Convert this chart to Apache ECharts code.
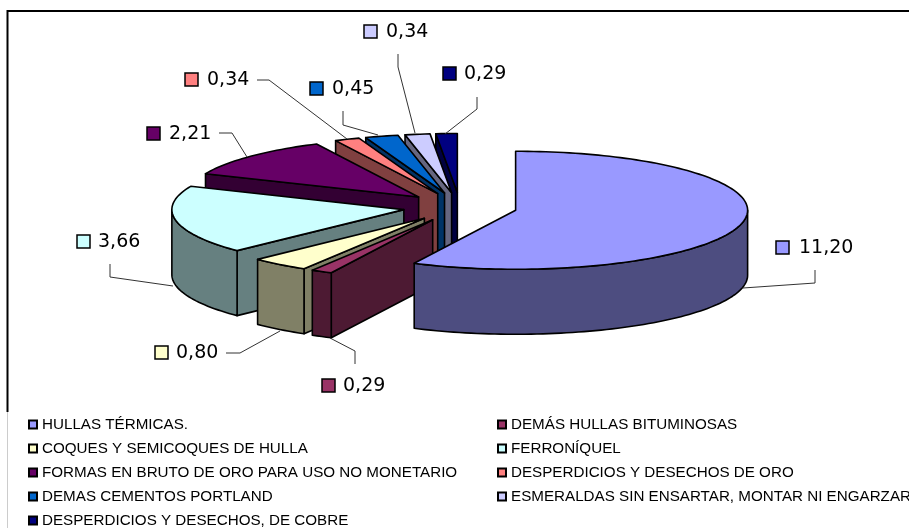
<!DOCTYPE html>
<html><head><meta charset="utf-8">
<style>html,body{margin:0;padding:0;background:#fff}#c{width:909px;height:528px}</style>
<script src="https://cdn.jsdelivr.net/npm/echarts@6/dist/echarts.min.js"></script>
</head><body><div id="c"></div>
<script>
const categories = ['HULLAS TÉRMICAS.','DEMÁS HULLAS BITUMINOSAS','COQUES Y SEMICOQUES DE HULLA','FERRONÍQUEL','FORMAS EN BRUTO DE ORO PARA USO NO MONETARIO','DESPERDICIOS Y DESECHOS DE ORO','DEMAS CEMENTOS PORTLAND','ESMERALDAS SIN ENSARTAR, MONTAR NI ENGARZAR','DESPERDICIOS Y DESECHOS, DE COBRE'];
const values = [11.20,0.29,0.80,3.66,2.21,0.34,0.45,0.34,0.29];
const topColors = ['#9999FF','#993366','#FFFFCC','#CCFFFF','#660066','#FF8080','#0066CC','#CCCCFF','#000080'];
const wallColors = ['#4D4D80','#4D1A33','#808066','#668080','#330033','#804040','#003366','#666680','#000040'];

// projection of the tilted, exploded pie
const CX = 460, CY = 207, RX = 232, RY = 59, DEPTH = 65, EXPLODE = 0.246;
// label placement: key square corner, text x, leader polyline
const labelLayout = [
  {k:[776,241],t:799,l:[[815,270],[815,283],[743,288]]},
  {k:[322,379],t:343,l:[[355,364],[355,351],[330,338]]},
  {k:[155,346],t:176,l:[[226,353],[240,353],[280,331]]},
  {k:[77,235], t:98, l:[[110,264],[110,277],[173,286]]},
  {k:[147,127],t:169,l:[[219,133],[232,133],[247,157]]},
  {k:[185,73], t:207,l:[[257,80],[269,80],[347,139]]},
  {k:[310,82], t:332,l:[[343,111],[343,125],[378,135]]},
  {k:[364,25], t:386,l:[[398,54],[398,67],[415,133]]},
  {k:[443,67], t:464,l:[[477,97],[477,109],[445,134]]}
];

const total = values.reduce((a,b)=>a+b,0);
const D = Math.PI/180;
const LW = 1.6;
function fmt(v){return v.toFixed(2).replace('.',',');}

function sliceItem(i){
  return function(params, api){
    const v = api.value(0), a0 = api.value(1)*D, a1 = api.value(2)*D;
    const mid = (a0+a1)/2;
    const ax = CX + EXPLODE*RX*Math.sin(mid), ay = CY - EXPLODE*RY*Math.cos(mid);
    const P = (a,dz)=>[ax+RX*Math.sin(a), ay-RY*Math.cos(a)+(dz||0)];
    const arc = (s,e,dz)=>{const n=Math.max(2,Math.ceil((e-s)/D/1.5)),o=[];for(let k=0;k<=n;k++)o.push(P(s+(e-s)*k/n,dz));return o;};
    const children = [];
    const face = (pts,fill)=>children.push({type:'polygon',shape:{points:pts},style:{fill,stroke:'#000',lineWidth:LW,lineJoin:'round'}});
    const apexB=[ax,ay+DEPTH];
    // cut faces
    if(Math.sin(a1)>0.001) face([[ax,ay],P(a1),P(a1,DEPTH),apexB],wallColors[i]);
    if(Math.sin(a0)<-0.001) face([[ax,ay],P(a0),P(a0,DEPTH),apexB],wallColors[i]);
    // outer rim: the part on the viewer's side
    const rs=Math.max(a0,90*D), re=Math.min(a1,270*D);
    if(re>rs){face(arc(rs,re,0).concat(arc(rs,re,DEPTH).reverse()),wallColors[i]);}
    // top face
    face([[ax,ay]].concat(arc(a0,a1,0)),topColors[i]);
    // data label: leader, key square, value
    const L = labelLayout[i];
    children.push({type:'polyline',shape:{points:L.l},style:{fill:null,stroke:'#333',lineWidth:1}});
    children.push({type:'rect',shape:{x:L.k[0],y:L.k[1],width:13,height:13},style:{fill:topColors[i],stroke:'#000',lineWidth:1.5}});
    children.push({type:'text',style:{x:L.t,y:L.k[1]+7,text:fmt(v),fill:'#000',font:'19px "DejaVu Sans"',verticalAlign:'middle',align:'left'}});
    return {type:'group',children};
  };
}

let cum = 0;
const series = values.map((v,i)=>{
  const s = cum/total*360; cum += v; const e = cum/total*360;
  return {type:'custom',name:categories[i],coordinateSystem:'none',z:20-i,silent:true,animation:false,
    clip:false,itemStyle:{color:topColors[i],borderColor:'#000',borderWidth:1.5},
    data:[[v,s,e]],renderItem:sliceItem(i)};
});

function legendFor(names,left,top){
  return {show:true,orient:'vertical',left,top,width:420,height:140,data:names,itemWidth:8,itemHeight:8,itemGap:9,padding:0,
    icon:'rect',selectedMode:false,
    textStyle:{fontFamily:'"Liberation Sans"',fontSize:15.2,color:'#000',padding:[0,0,0,0],lineHeight:15,height:15}};
}
const chart = echarts.init(document.getElementById('c'),null,{renderer:'canvas'});
chart.setOption({
  backgroundColor:'#fff',animation:false,
  legend:[
    legendFor(categories.filter((c,i)=>i%2===0),28,417),
    legendFor(categories.filter((c,i)=>i%2===1),497,417)
  ],
  graphic:[
    {type:'polyline',z:1,silent:true,shape:{points:[[7.5,412],[7.5,11],[909,11]]},style:{fill:null,stroke:'#000',lineWidth:2}},
    {type:'line',z:1,silent:true,shape:{x1:7.5,y1:412,x2:7.5,y2:528},style:{stroke:'#cccccc',lineWidth:1}}
  ],
  series
});
</script></body></html>
